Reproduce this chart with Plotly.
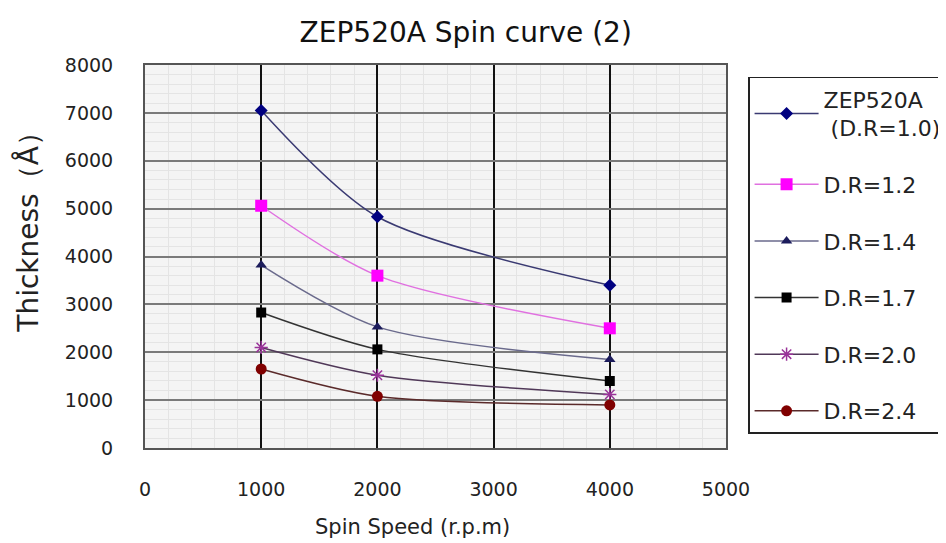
import plotly.graph_objects as go

spin_speed = [1000, 2000, 4000]
series_names = ["ZEP520A<br> (D.R=1.0)", "D.R=1.2", "D.R=1.4", "D.R=1.7", "D.R=2.0", "D.R=2.4"]
zep_10 = [7050, 4830, 3400]
dr_12 = [5060, 3600, 2500]
dr_14 = [3820, 2530, 1850]
dr_17 = [2830, 2060, 1400]
dr_20 = [2100, 1520, 1120]
dr_24 = [1650, 1080, 900]
values = [zep_10, dr_12, dr_14, dr_17, dr_20, dr_24]

styles = [
    dict(line="#3a3a72", marker=dict(symbol="diamond", color="#000080", size=10)),
    dict(line="#e070e0", marker=dict(symbol="square", color="#ff00ff", size=12)),
    dict(line="#6a6a8c", marker=dict(symbol="triangle-up", color="#1c1c5c", size=10)),
    dict(line="#333333", marker=dict(symbol="square", color="#000000", size=10)),
    dict(line="#503858", marker=dict(symbol="asterisk-open", color="#993399", size=11,
                                     line=dict(color="#993399", width=1.5))),
    dict(line="#5a2a2a", marker=dict(symbol="circle", color="#800000", size=11)),
]

fig = go.Figure()
for i, (name, ys, st) in enumerate(zip(series_names, values, styles)):
    fig.add_trace(go.Scatter(
        x=spin_speed, y=ys, name=name, mode="lines+markers",
        line=dict(color=st["line"], width=1.5, shape="spline", smoothing=0.8),
        marker=st["marker"], legendgroup=f"g{i}",
    ))

font_family = "DejaVu Sans"
# page body has an 8px margin, so the figure is drawn at (8, 8)
fig.update_layout(
    width=938, height=535,
    margin=dict(l=137, r=220, t=57, b=95, autoexpand=False),
    paper_bgcolor="white",
    plot_bgcolor="#f4f4f4",
    title=dict(text="ZEP520A Spin curve (2)", x=0.552, xref="paper", xanchor="center",
               y=0.955, yref="container", yanchor="middle",
               font=dict(family=font_family, size=28, color="#111")),
    font=dict(family=font_family, color="#222"),
    showlegend=True,
    legend=dict(x=1.038, y=0.969, xanchor="left", yanchor="top",
                bordercolor="#222", borderwidth=1.5, bgcolor="white",
                font=dict(family=font_family, size=22, color="#222"),
                tracegroupgap=25, traceorder="grouped", itemwidth=64),
    xaxis=dict(range=[0, 5000], dtick=1000, showgrid=True, gridcolor="#111", gridwidth=1.5,
               zeroline=False, showline=True, linecolor="#555", linewidth=2, mirror=True,
               tickfont=dict(size=19, color="#222"), ticklabelstandoff=23,
               minor=dict(dtick=200, showgrid=True, gridcolor="#e4e4e4", gridwidth=1)),
    yaxis=dict(range=[0, 8000], dtick=1000, showgrid=True, gridcolor="#7a7a7a", gridwidth=2,
               zeroline=False, showline=True, linecolor="#555", linewidth=2, mirror=True,
               tickfont=dict(size=19, color="#222"), ticklabelstandoff=26,
               minor=dict(dtick=200, showgrid=True, gridcolor="#e4e4e4", gridwidth=1)),
    annotations=[
        dict(text="Spin Speed (r.p.m)", xref="paper", yref="paper",
             x=0.461, y=-0.207, xanchor="center", yanchor="middle", showarrow=False,
             font=dict(family=font_family, size=21, color="#222")),
        dict(text="Thickness（Å）", xref="paper", yref="paper", textangle=-90,
             x=-0.201, y=0.581, xanchor="center", yanchor="middle", showarrow=False,
             font=dict(family=font_family, size=28, color="#222")),
    ],
)

fig.write_html("out.html")
